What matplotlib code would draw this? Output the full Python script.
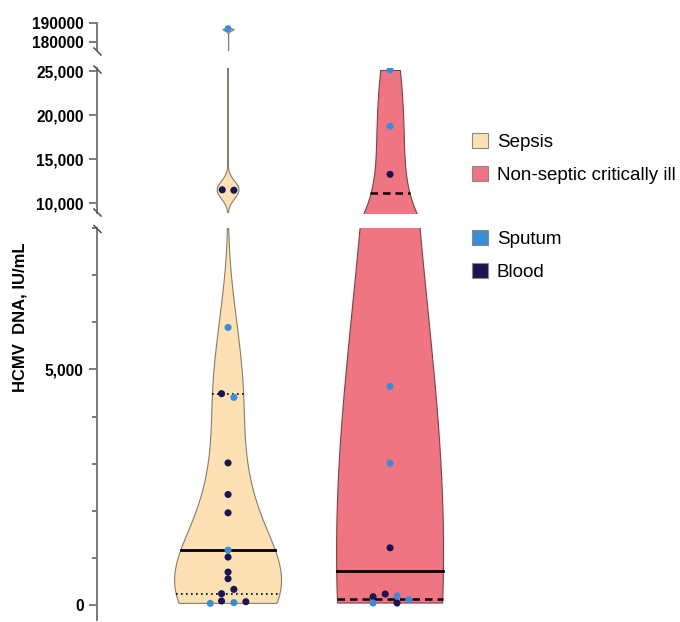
import matplotlib
matplotlib.use("Agg")
import matplotlib.pyplot as plt
import numpy as np
from matplotlib.lines import Line2D
from matplotlib.patches import Patch

plt.rcParams['font.family'] = ['Liberation Sans', 'DejaVu Sans']

# HCMV DNA load per patient (IU/mL) and the sample it was measured in
sepsis_values = [187000, 11500, 11450, 5890, 4485, 4407, 3015, 2345, 1956, 1165,
                 1017, 699, 557, 332, 240, 85, 70, 50, 35]
sepsis_source = ['S', 'B', 'B', 'S', 'B', 'S', 'B', 'B', 'B', 'S',
                 'B', 'B', 'B', 'B', 'B', 'B', 'B', 'S', 'S']
sepsis_jitter = [0, -0.036, 0.036, 0, -0.04, 0.036, 0, 0, 0, 0,
                 0, 0, 0, 0.036, -0.04, -0.04, 0.11, 0.036, -0.11]

nonseptic_values = [25114, 18716, 13260, 4640, 3008, 1214, 233, 190, 176, 112, 42, 42]
nonseptic_source = ['S', 'S', 'B', 'S', 'S', 'B', 'B', 'S', 'B', 'S', 'S', 'B']
nonseptic_jitter = [0, 0, 0, 0, 0, 0, -0.03, 0.043, -0.105, 0.115, -0.105, 0.043]

group_labels = ['Sepsis', 'Non-septic critically ill']
source_labels = ['Sputum', 'Blood']

fill_colors = ['#FDE0B4', '#F07582']
edge_colors = ['#8C7B6B', '#7D4048']
dot_colors = {'S': '#3A8DD4', 'B': '#1A1450'}
bandwidths = [1000, 5500]
quart_styles = [(0, (1, 2)), (0, (3, 2))]
quart_widths = [1.2, 1.8]

W, H = 680, 622
fig = plt.figure(figsize=(W / 100, H / 100), dpi=100)


def px_axes(top, bottom, left=97, right=460):
    return fig.add_axes([left / W, 1 - bottom / H, (right - left) / W, (bottom - top) / H])


ax_top = px_axes(23, 50)
ax_mid = px_axes(68, 213)
ax_bot = px_axes(228, 620)
axes = [ax_top, ax_mid, ax_bot]

ax_top.set_ylim(175790, 190000)
ax_mid.set_ylim(8864, 25341)
ax_bot.set_ylim(-318, 8000)

spine_col = '#707070'
for ax in axes:
    ax.set_xlim(0.191, 0.191 + 363 / 162)
    for s in ['top', 'right', 'bottom']:
        ax.spines[s].set_visible(False)
    ax.spines['left'].set_color(spine_col)
    ax.spines['left'].set_linewidth(1.3)
    ax.set_xticks([])
    ax.tick_params(axis='y', colors=spine_col, width=1.3, length=6, labelcolor='black',
                   labelsize=11.2)
    ax.patch.set_alpha(0)

ax_top.set_yticks([180000, 190000])
ax_top.set_yticklabels(['180000', '190000'])
ax_mid.set_yticks([10000, 15000, 20000, 25000])
ax_mid.set_yticklabels(['10,000', '15,000', '20,000', '25,000'])
ax_bot.set_yticks([0, 5000])
ax_bot.set_yticklabels(['0', '5,000'])
ax_bot.set_yticks(np.arange(0, 8001, 1000), minor=True)
ax_bot.tick_params(axis='y', which='minor', colors=spine_col, width=1.3, length=3.5)
for ax in axes:
    for lab in ax.get_yticklabels():
        lab.set_fontweight('bold')


def kde(vals, grid, bw):
    return np.exp(-0.5 * ((grid[:, None] - vals[None, :]) / bw) ** 2).sum(axis=1)


groups = [(sepsis_values, sepsis_source, sepsis_jitter),
          (nonseptic_values, nonseptic_source, nonseptic_jitter)]
max_half = 0.33

for i, (vals, src, jit) in enumerate(groups):
    vals = np.array(vals, dtype=float)
    pos = i + 1
    grid = np.linspace(vals.min(), vals.max(), 120000)
    dens = kde(vals, grid, bandwidths[i])
    half = max_half * dens / dens.max()
    q1, med, q3 = np.percentile(vals, [25, 50, 75], method='weibull')
    for ax in axes:
        ax.fill_betweenx(grid, pos - half, pos + half, facecolor=fill_colors[i],
                         edgecolor=edge_colors[i], linewidth=0.8, zorder=1)
        for q, ls, lw in [(q1, quart_styles[i], quart_widths[i]),
                          (q3, quart_styles[i], quart_widths[i]),
                          (med, '-', 2.0)]:
            hw = np.interp(q, grid, half)
            ax.plot([pos - hw, pos + hw], [q, q], color='black', linestyle=ls,
                    linewidth=lw, zorder=2)
        for v, s, j in zip(vals, src, jit):
            ax.scatter(pos + j, v, s=26, color=dot_colors[s], edgecolors='none', zorder=3)

# diagonal break marks on the y axis
for y in [51.5, 69.5, 212.5, 229]:
    fig.add_artist(Line2D([94 / W, 101 / W], [1 - (y - 3.5) / H, 1 - (y + 3.5) / H],
                          color='#505050', linewidth=1.1))

fig.text(20 / W, 1 - 317 / H, 'HCMV  DNA, IU/mL', rotation=90, ha='center', va='center',
         fontsize=12, fontweight='bold')

group_handles = [Patch(facecolor=fill_colors[k], edgecolor='#8a8a8a', linewidth=0.8)
                 for k in range(2)]
source_handles = [Patch(facecolor=dot_colors[k], edgecolor='#8a8a8a', linewidth=0.8)
                  for k in ['S', 'B']]
legend_kw = dict(loc='upper left', frameon=False, fontsize=13.5, borderpad=0,
                 borderaxespad=0, handlelength=0.85, handleheight=0.85,
                 handletextpad=0.48, labelspacing=0.8)
fig.legend(group_handles, group_labels, bbox_to_anchor=(472 / W, 1 - 133 / H), **legend_kw)
fig.legend(source_handles, source_labels, bbox_to_anchor=(472 / W, 1 - 230 / H), **legend_kw)

fig.savefig('out.png', dpi=100)
